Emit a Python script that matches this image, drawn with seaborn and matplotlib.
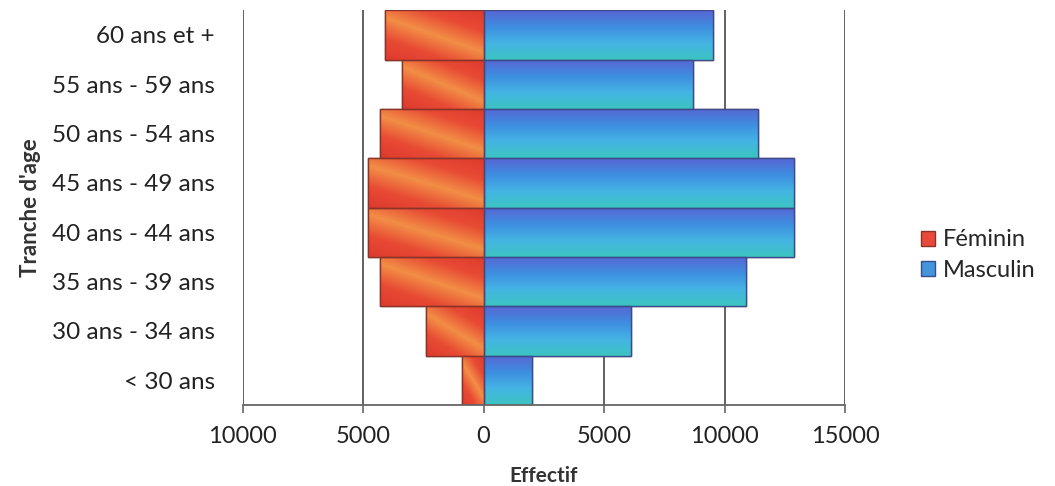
import matplotlib
matplotlib.use("Agg")
import matplotlib.pyplot as plt
import seaborn as sns
import pandas as pd
import numpy as np
from matplotlib.ticker import FixedLocator, FuncFormatter
from matplotlib.patches import Patch
from matplotlib.colors import LinearSegmentedColormap

age_groups = ["60 ans et +", "55 ans - 59 ans", "50 ans - 54 ans", "45 ans - 49 ans",
              "40 ans - 44 ans", "35 ans - 39 ans", "30 ans - 34 ans", "< 30 ans"]
feminin = [4100, 3400, 4300, 4800, 4800, 4300, 2400, 900]
masculin = [9500, 8700, 11400, 12900, 12900, 10900, 6100, 2000]
x_ticks = [-10000, -5000, 0, 5000, 10000, 15000]

sns.set_theme(style="white")
plt.rcParams['font.family'] = ['Lato', 'DejaVu Sans']

df = pd.concat([
    pd.DataFrame({"Tranche": age_groups, "Effectif": [-v for v in feminin], "Sexe": "Féminin"}),
    pd.DataFrame({"Tranche": age_groups, "Effectif": masculin, "Sexe": "Masculin"}),
])

fig = plt.figure(figsize=(10.55, 4.86), dpi=100)
ax = fig.add_axes([0.230, 0.167, 0.571, 0.812])

colors = {"Féminin": "#E8493A", "Masculin": "#4494DC"}
sns.barplot(data=df, x="Effectif", y="Tranche", hue="Sexe", order=age_groups,
            palette=colors, dodge=False, width=1.0, orient="h", saturation=1,
            edgecolor="#6a3a40", linewidth=1.0, ax=ax, legend=False)

# gradient fills clipped to each bar (visual styling only)
blue_cmap = LinearSegmentedColormap.from_list("b", ["#5866D4", "#3E8EE0", "#44B4E4", "#3CC4C0"])
red_cmap = LinearSegmentedColormap.from_list("r", ["#DE3A2E", "#E84A34", "#F28E46", "#E84A34", "#DE3A2E"])
n = 64
yy, xx = np.mgrid[0:1:complex(0, n), 0:1:complex(0, n)]
blue_grad = yy
red_grad = np.clip((xx * 0.7 + (1 - yy)) / 1.7, 0, 1)
for p in list(ax.patches):
    x0, y0, w, h = p.get_x(), p.get_y(), p.get_width(), p.get_height()
    if w == 0:
        continue
    xl, xr = min(x0, x0 + w), max(x0, x0 + w)
    female = w < 0
    im = ax.imshow(red_grad if female else blue_grad,
                   cmap=red_cmap if female else blue_cmap,
                   extent=(xl, xr, y0 + h, y0), origin="upper",
                   aspect="auto", interpolation="bilinear", zorder=p.get_zorder() + 0.1)
    im.set_clip_path(p)
    edge = plt.Rectangle((x0, y0), w, h, fill=False,
                         edgecolor="#8a3328" if female else "#3a4c8c",
                         linewidth=1.0, zorder=p.get_zorder() + 0.2)
    ax.add_patch(edge)

ax.set_xlim(-10000, 15000)
ax.set_ylim(7.5, -0.5)
ax.xaxis.set_major_locator(FixedLocator(x_ticks))
ax.xaxis.set_major_formatter(FuncFormatter(lambda v, p: f"{abs(int(v))}"))
ax.grid(axis="x", color="#555555", linewidth=1.3)
ax.set_axisbelow(True)
for s in ["top", "right", "left"]:
    ax.spines[s].set_visible(False)
ax.spines["bottom"].set_color("#666666")
ax.spines["bottom"].set_linewidth(1.3)
ax.tick_params(axis="x", bottom=True, length=6, width=1.2, color="#666666",
               labelsize=17, labelcolor="#222222", pad=9)
ax.tick_params(axis="y", left=False, labelsize=17.5, labelcolor="#222222", pad=14)

ax.set_xlabel("Effectif", fontsize=15, fontweight="bold", color="#333333", labelpad=14)
ax.set_ylabel("Tranche d'age", fontsize=16, fontweight="bold", color="#333333", labelpad=8)

handles = [Patch(facecolor=colors["Féminin"], edgecolor="#8a3328"),
           Patch(facecolor=colors["Masculin"], edgecolor="#3a4c8c")]
fig.legend(handles, ["Féminin", "Masculin"], loc="center left",
           bbox_to_anchor=(0.853, 0.475), frameon=False, fontsize=17,
           handlelength=0.6, handleheight=0.6, handletextpad=0.3, labelspacing=0.4)

fig.savefig("out.png", dpi=100)
